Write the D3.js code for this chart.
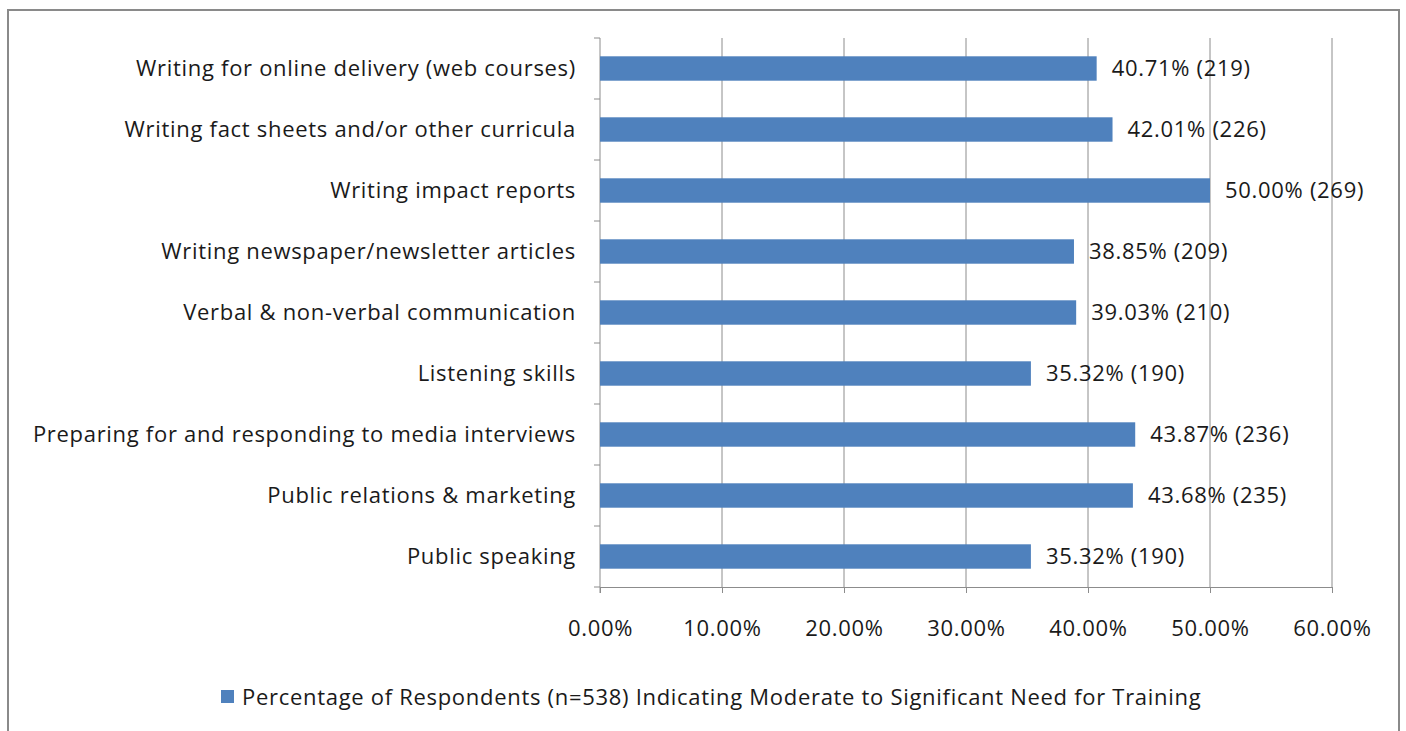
<!DOCTYPE html>
<html><head><meta charset="utf-8">
<script src="https://cdn.jsdelivr.net/npm/d3@7"></script>
<style>html,body{margin:0;padding:0;background:#fff;}svg{display:block;}</style>
</head><body>
<svg id="chart" width="1406" height="731"></svg>
<script>
const categories = [
  "Writing for online delivery (web courses)",
  "Writing fact sheets and/or other curricula",
  "Writing impact reports",
  "Writing newspaper/newsletter articles",
  "Verbal & non-verbal communication",
  "Listening skills",
  "Preparing for and responding to media interviews",
  "Public relations & marketing",
  "Public speaking"
];
const percentages = [40.71, 42.01, 50.00, 38.85, 39.03, 35.32, 43.87, 43.68, 35.32];
const counts = [219, 226, 269, 209, 210, 190, 236, 235, 190];
const xTicks = [0, 10, 20, 30, 40, 50, 60];
const legendLabel = "Percentage of Respondents (n=538) Indicating Moderate to Significant Need for Training";

(function () {
const svg = d3.select("#chart");
const font = "'Open Sans', Lato, sans-serif";
const fs = 22;
const ls = "0.7px";
const barColor = "#4F81BD";
const gridColor = "#8c8c8c";
const textColor = "#1a1a1a";

// frame
svg.append("rect").attr("x", 8).attr("y", 10).attr("width", 1391).attr("height", 740)
  .attr("fill", "#fff").attr("stroke", "#8a8a8a").attr("stroke-width", 2);

const pLeft = 600, pRight = 1332, pTop = 38, pBottom = 587;
const x = d3.scaleLinear().domain([0, 60]).range([pLeft, pRight]);
const y = d3.scaleBand().domain(categories).range([pTop, pBottom]).paddingInner(0.6).paddingOuter(0.3);

// gridlines
svg.append("g").selectAll("line").data(xTicks.slice(1)).join("line")
  .attr("x1", d => x(d)).attr("x2", d => x(d)).attr("y1", pTop).attr("y2", pBottom)
  .attr("stroke", gridColor).attr("stroke-width", 1);

// x axis
const xAxis = d3.axisBottom(x).tickValues(xTicks).tickFormat(d => d.toFixed(2) + "%").tickSize(6).tickPadding(27);
const gx = svg.append("g").attr("transform", `translate(0,${pBottom})`).call(xAxis);
gx.select(".domain").attr("stroke", gridColor);
gx.selectAll(".tick line").attr("stroke", gridColor);
gx.selectAll(".tick text").attr("font-family", font).attr("font-size", fs).attr("fill", textColor)
  .attr("letter-spacing", ls);

// y axis: ticks at band boundaries
const boundaries = d3.range(categories.length + 1).map(i => pTop + i * (pBottom - pTop) / categories.length);
svg.append("line").attr("x1", pLeft).attr("x2", pLeft).attr("y1", pTop).attr("y2", pBottom + 6)
  .attr("stroke", gridColor);
svg.append("g").selectAll("line").data(boundaries).join("line")
  .attr("x1", pLeft - 6).attr("x2", pLeft).attr("y1", d => d).attr("y2", d => d)
  .attr("stroke", gridColor);
svg.append("g").selectAll("text").data(categories).join("text")
  .attr("x", pLeft - 24).attr("y", d => y(d) + y.bandwidth() / 2).attr("dy", "0.35em")
  .attr("text-anchor", "end").attr("font-family", font).attr("font-size", fs).attr("fill", textColor)
  .attr("letter-spacing", ls)
  .text(d => d);

// bars
svg.append("g").selectAll("rect").data(categories).join("rect")
  .attr("x", pLeft).attr("y", d => y(d))
  .attr("width", (d, i) => x(percentages[i]) - pLeft).attr("height", y.bandwidth())
  .attr("fill", barColor);

// data labels
svg.append("g").selectAll("text").data(categories).join("text")
  .attr("x", (d, i) => x(percentages[i]) + 15).attr("y", d => y(d) + y.bandwidth() / 2).attr("dy", "0.35em")
  .attr("font-family", font).attr("font-size", fs).attr("fill", textColor)
  .attr("letter-spacing", ls)
  .text((d, i) => percentages[i].toFixed(2) + "% (" + counts[i] + ")");

// legend
const lg = svg.append("g").attr("transform", "translate(221,690)");
lg.append("rect").attr("x", 0).attr("y", 0).attr("width", 13).attr("height", 13).attr("fill", barColor);
lg.append("text").attr("x", 21).attr("y", 7).attr("dy", "0.35em")
  .attr("font-family", font).attr("font-size", fs).attr("fill", textColor)
  .attr("letter-spacing", ls).text(legendLabel);
})();
</script>
</body></html>
